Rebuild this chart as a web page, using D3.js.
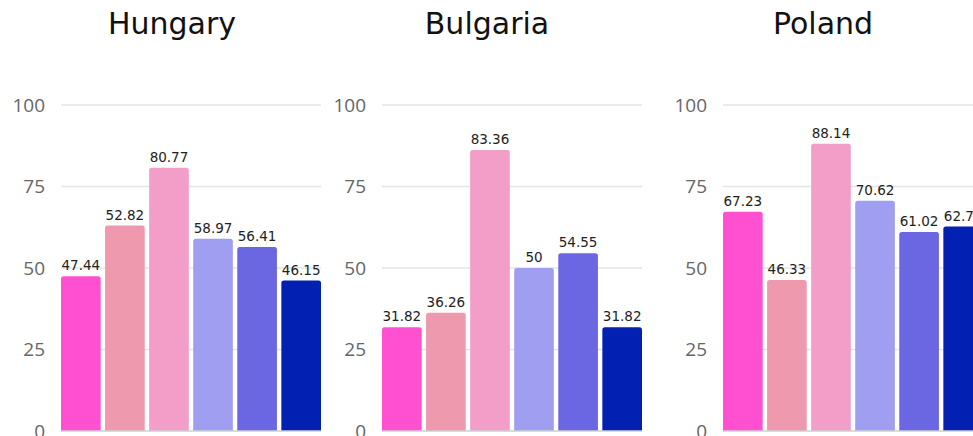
<!DOCTYPE html>
<html>
<head>
<meta charset="utf-8">
<script src="https://cdn.jsdelivr.net/npm/d3@7"></script>
<style>
  body { margin: 0; background: #fff; }
</style>
</head>
<body>
<div id="chart"></div>
<script>
// data
var countries = ["Hungary", "Bulgaria", "Poland"];
var categories = ["c1", "c2", "c3", "c4", "c5", "c6"];
var colors = ["#ff50d2", "#ee99ae", "#f29ec8", "#a09ef0", "#6b66e2", "#0220b2"];
var yTicks = [0, 25, 50, 75, 100];

// bar heights as drawn, and the labels printed on them
var hungaryValues = [47.44, 63.0, 80.77, 58.97, 56.41, 46.15];
var hungaryLabels = ["47.44", "52.82", "80.77", "58.97", "56.41", "46.15"];
var bulgariaValues = [31.82, 36.26, 86.2, 50, 54.55, 31.82];
var bulgariaLabels = ["31.82", "36.26", "83.36", "50", "54.55", "31.82"];
var polandValues = [67.23, 46.33, 88.14, 70.62, 61.02, 62.71];
var polandLabels = ["67.23", "46.33", "88.14", "70.62", "61.02", "62.71"];

var allValues = [hungaryValues, bulgariaValues, polandValues];
var allLabels = [hungaryLabels, bulgariaLabels, polandLabels];

// layout
var W = 973, H = 436;
var panelLeft = [61, 382, 723];
var titleX = [172, 487, 823];
var plotW = 260;

var svg = d3.select("#chart").append("svg")
      .attr("width", W)
      .attr("height", H);

var y = d3.scaleLinear().domain([0, 100]).range([431, 105]);

var x = d3.scaleBand()
      .domain(categories)
      .range([0, plotW])
      .paddingInner(0.1)
      .paddingOuter(0);

function topRoundedBar(x0, y0, w, h, r) {
      r = Math.min(r, h, w / 2);
      return "M" + x0 + "," + (y0 + h) +
            "V" + (y0 + r) +
            "Q" + x0 + "," + y0 + " " + (x0 + r) + "," + y0 +
            "H" + (x0 + w - r) +
            "Q" + (x0 + w) + "," + y0 + " " + (x0 + w) + "," + (y0 + r) +
            "V" + (y0 + h) + "Z";
}

for (var p = 0; p < countries.length; p++) {
      var g = svg.append("g")
            .attr("transform", "translate(" + panelLeft[p] + ",0)");

      // title
      svg.append("text")
            .attr("x", titleX[p])
            .attr("y", 34)
            .attr("text-anchor", "middle")
            .attr("font-family", "DejaVu Sans, sans-serif")
            .attr("font-size", "30px")
            .attr("fill", "#111")
            .text(countries[p]);

      // gridlines
      g.selectAll(".grid")
            .data(yTicks.filter(function (d) { return d > 0; }))
            .enter().append("line")
            .attr("x1", 0)
            .attr("x2", plotW)
            .attr("y1", function (d) { return y(d); })
            .attr("y2", function (d) { return y(d); })
            .attr("stroke", "#e4e4e4")
            .attr("stroke-width", 1.6);

      // y tick labels
      g.selectAll(".tick")
            .data(yTicks)
            .enter().append("text")
            .attr("x", -16)
            .attr("y", function (d) { return y(d); })
            .attr("dy", "0.36em")
            .attr("text-anchor", "end")
            .attr("font-family", "Open Sans, sans-serif")
            .attr("font-size", "19px")
            .attr("fill", "#666")
            .text(function (d) { return d; });

      var vals = allValues[p];
      var labs = allLabels[p];

      // bars
      g.selectAll(".bar")
            .data(vals)
            .enter().append("path")
            .attr("d", function (d, i) {
                  return topRoundedBar(x(categories[i]), y(d), x.bandwidth(), y(0) - y(d), 2.5);
            })
            .attr("fill", function (d, i) { return colors[i]; });

      // baseline
      g.append("line")
            .attr("x1", 0)
            .attr("x2", plotW)
            .attr("y1", y(0))
            .attr("y2", y(0))
            .attr("stroke", "#cfcfcf")
            .attr("stroke-width", 1.5);

      // value labels
      g.selectAll(".lbl")
            .data(vals)
            .enter().append("text")
            .attr("x", function (d, i) { return x(categories[i]) + x.bandwidth() / 2; })
            .attr("y", function (d) { return y(d) - 6; })
            .attr("text-anchor", "middle")
            .attr("font-family", "DejaVu Sans, sans-serif")
            .attr("font-size", "13.5px")
            .attr("fill", "#222")
            .text(function (d, i) { return labs[i]; });
}
</script>
</body>
</html>
